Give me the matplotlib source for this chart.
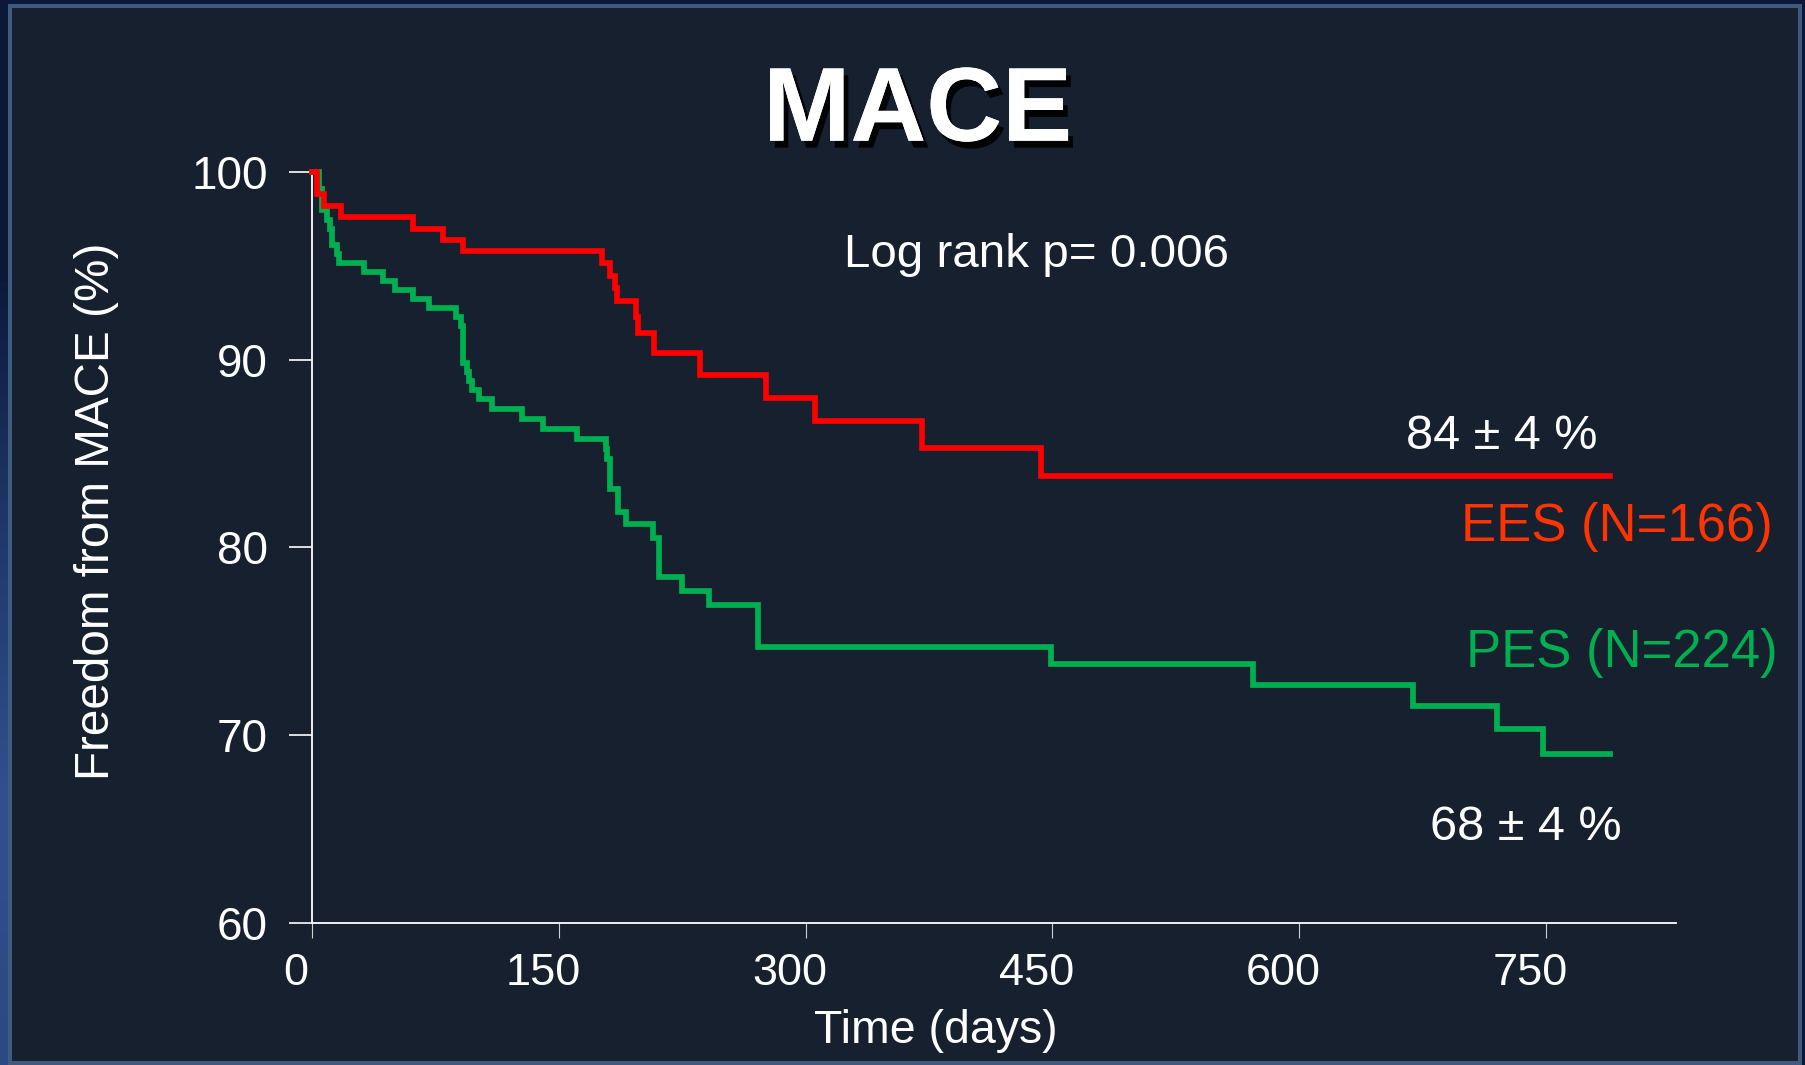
import numpy as np
import matplotlib
matplotlib.use("Agg")
import matplotlib.pyplot as plt
import matplotlib.patches as patches
import matplotlib.patheffects as pe
from matplotlib.transforms import ScaledTranslation

# Kaplan-Meier steps: (day of drop, value after drop)
ees_days = [0, 3, 7, 17.6, 61.6, 79.4, 91.6, 176.1, 181.2, 184.2, 185.2, 196.8, 198,
            208.1, 235.9, 275.8, 305.8, 370.6, 443, 789]
ees_surv = [100, 98.83, 98.2, 97.6, 97.0, 96.38, 95.78, 95.14, 94.48, 93.83, 93.12, 92.3, 91.44,
            90.37, 89.2, 87.98, 86.74, 85.28, 83.81, 83.81]

pes_days = [0, 4, 6, 9.3, 10.9, 12, 15, 16.6, 31.6, 43.4, 50.7, 61.6, 71.3, 87.5, 90.4, 91.6,
            94.4, 95.4, 97.4, 101.5, 109.4, 127.5, 140.2, 160.9, 178.5, 179.1, 181.2, 186,
            190.9, 207.1, 210.8, 224.9, 241, 271, 449.4, 572, 668.9, 720.4, 748.4, 789]
pes_surv = [100, 99.1, 98.0, 97.46, 97.0, 96.13, 95.65, 95.16, 94.7, 94.22, 93.72, 93.24, 92.76,
            92.27, 91.79, 89.84, 89.34, 88.86, 88.38, 87.89, 87.36, 86.86, 86.29, 85.8, 85.23,
            84.7, 83.1, 81.9, 81.24, 80.53, 78.44, 77.69, 76.95, 74.7, 73.76, 72.69, 71.54,
            70.3, 69.0, 69.0]

x_ticks = [0, 150, 300, 450, 600, 750]
y_ticks = [60, 70, 80, 90, 100]

W, H = 1806, 1065
bg = "#16202f"
red = "#ff0000"
green = "#00b050"
label_red = "#ff3300"

plt.rcParams["font.family"] = ["Liberation Sans", "DejaVu Sans"]

fig = plt.figure(figsize=(W / 100, H / 100), dpi=100)
fig.patch.set_facecolor("#0b1838")

# slide panel
panel = patches.Rectangle((10 / W, 2 / H), 1790 / W, 1057 / H, transform=fig.transFigure,
                          facecolor=bg, edgecolor="#3f5a7c", linewidth=2.9, zorder=-10)
fig.patches.append(panel)

# left blue strip of the slide frame
strip = fig.add_axes([0, 0, 8 / W, 1], zorder=-5)
grad = np.linspace(0, 1, 200).reshape(-1, 1)
cmap = matplotlib.colors.LinearSegmentedColormap.from_list(
    "strip", ["#2a4a85", "#30508f", "#20386a", "#0b1838", "#0b1838"])
strip.imshow(grad, aspect="auto", cmap=cmap, extent=[0, 1, 0, 1], origin="lower")
strip.axis("off")

ax = fig.add_axes([312 / W, 142.4 / H, (1676 - 312) / W, (922.6 - 172.3) / H], zorder=1)
ax.set_facecolor("none")

ax.step(pes_days, pes_surv, where="post", color=green, lw=4.1, clip_on=False,
        solid_joinstyle="miter", zorder=3)
ax.step(ees_days, ees_surv, where="post", color=red, lw=4.1, clip_on=False,
        solid_joinstyle="miter", zorder=4)

ax.set_xlim(0, 829)
ax.set_ylim(60, 100)
ax.set_xticks(x_ticks)
ax.set_yticks(y_ticks)
for s in ["top", "right"]:
    ax.spines[s].set_visible(False)
for s in ["left", "bottom"]:
    ax.spines[s].set_color("white")
    ax.spines[s].set_linewidth(1.3)
ax.tick_params(axis="x", direction="out", length=10.8, width=0.8, color="#d0d0d0",
               pad=11, labelsize=32.5, labelcolor="white")
ax.tick_params(axis="y", direction="out", length=16.6, width=1.2, color="white",
               pad=15, labelsize=33, labelcolor="white")

# the slide has the day labels sitting a little left of their ticks
shift = ScaledTranslation(-0.16, 0, fig.dpi_scale_trans)
for lab in ax.get_xticklabels():
    lab.set_transform(lab.get_transform() + shift)

# annotations
ax.text(440.4, 94.94, "Log rank p= 0.006", color="white", fontsize=34.2,
        ha="center", va="baseline")
ax.text(723, 85.27, "84 ± 4 %", color="white", fontsize=35, ha="center", va="baseline")
ax.text(737.5, 64.4, "68 ± 4 %", color="white", fontsize=35, ha="center", va="baseline")
ax.text(792.8, 80.32, "EES (N=166)", color=label_red, fontsize=37.9, ha="center",
        va="baseline", clip_on=False)
ax.text(795.9, 73.62, "PES (N=224)", color=green, fontsize=37.9, ha="center",
        va="baseline", clip_on=False)

fig.text(96.8 / W, 1 - 510.8 / H, "Freedom from MACE (%)", color="white", fontsize=34.3,
         rotation=90, ha="center", va="center")
fig.text(936 / W, 1 - 1043.4 / H, "Time (days)", color="white", fontsize=33.5,
         ha="center", va="baseline")

fig.text(917.5 / W, 1 - 140.7 / H, "MACE", color="white", fontsize=75.6, fontweight="bold",
         ha="center", va="baseline",
         path_effects=[pe.withSimplePatchShadow(offset=(3.5, -5), shadow_rgbFace="black",
                                                alpha=0.9), pe.Normal()])

fig.savefig("out.png", dpi=100, facecolor=fig.get_facecolor())
